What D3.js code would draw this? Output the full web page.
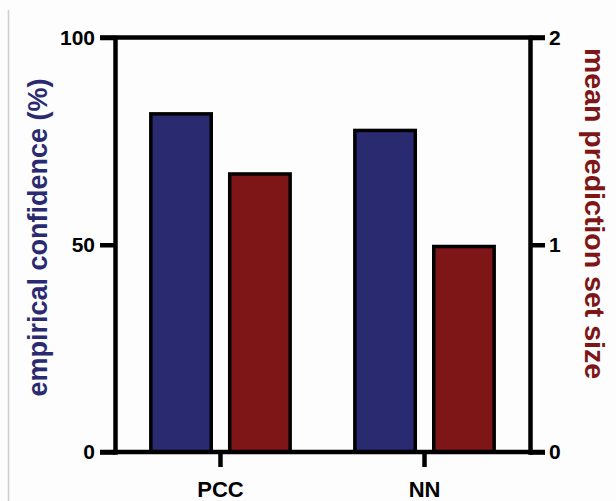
<!DOCTYPE html>
<html>
<head>
<meta charset="utf-8">
<script src="https://cdn.jsdelivr.net/npm/d3@7"></script>
<style>
  html, body { margin: 0; padding: 0; background: #fdfdfd; }
  svg { display: block; }
  text { font-family: "Liberation Sans", Arial, Helvetica, sans-serif; font-weight: bold; }
</style>
</head>
<body>
<svg id="chart" width="616" height="501"></svg>
<script>
// Methods compared
const categories = ["PCC", "NN"];
// Empirical confidence, percent (left axis)
const confidence = [82, 78];
// Mean prediction set size (right axis)
const setSize = [1.35, 1.0];
// Axis ticks
const leftTicks = [0, 50, 100];
const rightTicks = [0, 1, 2];

const colors = { confidence: "#292a70", setSize: "#7e1517" };
const lineW = 4.5;

const svg = d3.select("#chart");
const W = 616, H = 501;

// thin border line on the left edge of the canvas
svg.append("line")
  .attr("x1", 8.5).attr("x2", 8.5).attr("y1", 10).attr("y2", H)
  .attr("stroke", "#cfcfcf").attr("stroke-width", 1.5);

const plot = { left: 115, right: 530, top: 37.5, bottom: 452 };

const yL = d3.scaleLinear().domain([0, 100]).range([plot.bottom, plot.top]);
const yR = d3.scaleLinear().domain([0, 2]).range([plot.bottom, plot.top]);

const x0 = d3.scaleBand().domain(categories)
  .range([plot.left, plot.right]).paddingInner(0.3).paddingOuter(0.167);
const x1 = d3.scaleBand().domain(["confidence", "setSize"])
  .range([0, x0.bandwidth()]).paddingInner(0.19).paddingOuter(0);

// bars
const rows = categories.map((c, i) => ({ cat: c, confidence: confidence[i], setSize: setSize[i] }));
const groups = svg.append("g").selectAll("g").data(rows).join("g")
  .attr("transform", d => `translate(${x0(d.cat)},0)`);

groups.append("rect")
  .attr("x", x1("confidence") + 1.75)
  .attr("width", x1.bandwidth() - 3.5)
  .attr("y", d => yL(d.confidence) + 1.75)
  .attr("height", d => plot.bottom - yL(d.confidence) - 1.75)
  .attr("fill", colors.confidence).attr("stroke", "#000").attr("stroke-width", 3.5);

groups.append("rect")
  .attr("x", x1("setSize") + 1.75)
  .attr("width", x1.bandwidth() - 3.5)
  .attr("y", d => yR(d.setSize) + 1.75)
  .attr("height", d => plot.bottom - yR(d.setSize) - 1.75)
  .attr("fill", colors.setSize).attr("stroke", "#000").attr("stroke-width", 3.5);

function styleAxis(g) {
  g.selectAll("path.domain").attr("stroke", "#000").attr("stroke-width", lineW).attr("stroke-linecap", "square");
  g.selectAll(".tick line").attr("stroke", "#000").attr("stroke-width", lineW);
  g.selectAll(".tick text").attr("fill", "#000").style("font-size", "21px")
    .style("font-family", '"Liberation Sans", Arial, sans-serif').style("font-weight", "bold");
}

// left axis
svg.append("g").attr("transform", `translate(${plot.left},0)`)
  .call(d3.axisLeft(yL).tickValues(leftTicks).tickFormat(d3.format("d"))
    .tickSize(15).tickSizeOuter(0).tickPadding(5))
  .call(styleAxis);

// right axis
svg.append("g").attr("transform", `translate(${plot.right},0)`)
  .call(d3.axisRight(yR).tickValues(rightTicks).tickFormat(d3.format("d"))
    .tickSize(15).tickSizeOuter(0).tickPadding(4))
  .call(styleAxis);

// top and bottom frame lines, spanning the outer ticks
[plot.top, plot.bottom].forEach(y => {
  svg.append("line")
    .attr("x1", plot.left - 15).attr("x2", plot.right + 15)
    .attr("y1", y).attr("y2", y)
    .attr("stroke", "#000").attr("stroke-width", lineW);
});

// category axis
const xAxisG = svg.append("g").attr("transform", `translate(0,${plot.bottom})`)
  .call(d3.axisBottom(x0).tickSize(15).tickSizeOuter(0).tickPadding(14))
  .call(styleAxis);
xAxisG.select("path.domain").remove();
xAxisG.selectAll(".tick text").style("font-size", "22px");

// axis titles
svg.append("text")
  .attr("transform", `translate(47,${237.5}) rotate(-90)`)
  .attr("text-anchor", "middle")
  .attr("fill", colors.confidence)
  .style("font-size", "27px")
  .text("empirical confidence (%)");

svg.append("text")
  .attr("transform", `translate(585,${213.5}) rotate(90)`)
  .attr("text-anchor", "middle")
  .attr("fill", colors.setSize)
  .style("font-size", "28.5px")
  .text("mean prediction set size");
</script>
</body>
</html>
